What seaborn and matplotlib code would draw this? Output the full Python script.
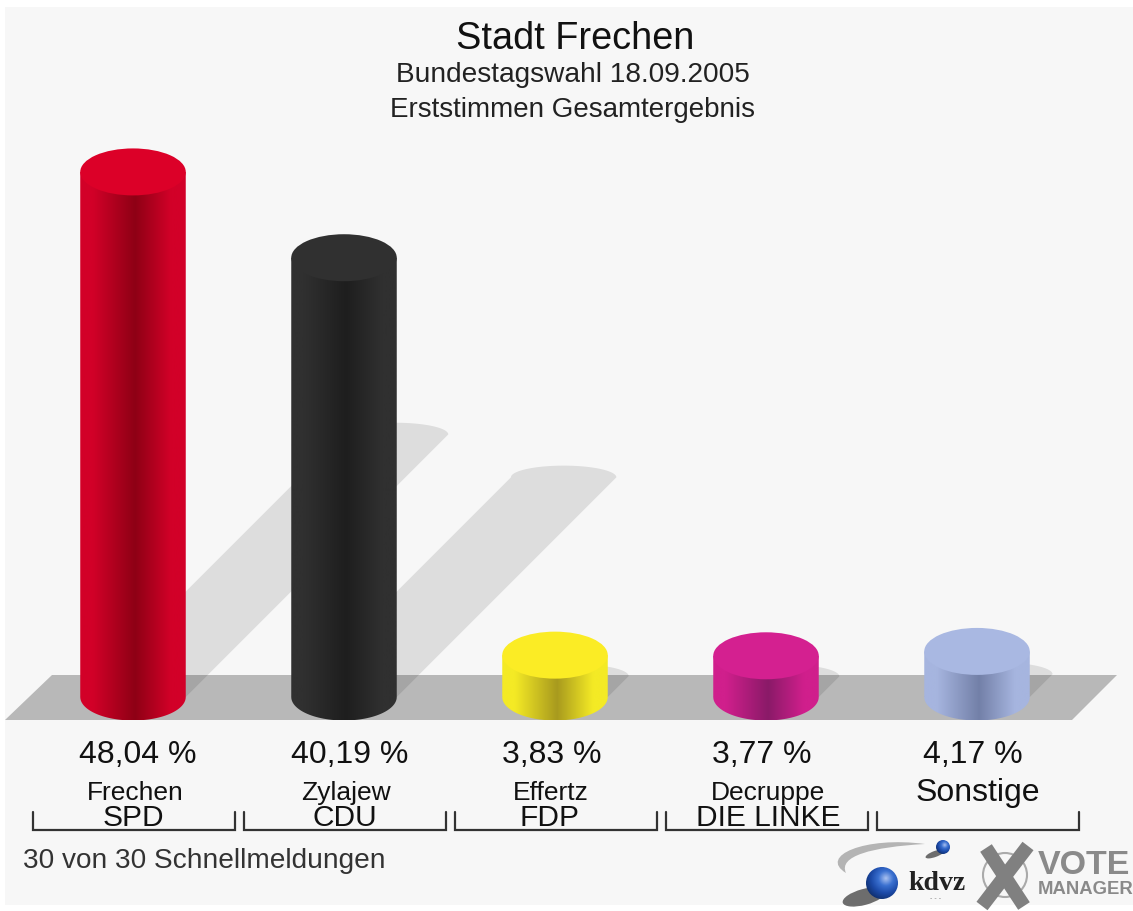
import numpy as np
import pandas as pd
import matplotlib
matplotlib.use("Agg")
import matplotlib.pyplot as plt
from matplotlib.colors import LinearSegmentedColormap
from matplotlib.patches import Circle, Ellipse, PathPatch, Polygon
from matplotlib.path import Path
import seaborn as sns

# Daten
kandidaten = ["Frechen", "Zylajew", "Effertz", "Decruppe", "Sonstige"]
parteien = ["SPD", "CDU", "FDP", "DIE LINKE", ""]
prozent = [48.04, 40.19, 3.83, 3.77, 4.17]

# Farben: Deckel, Rand, Mitte
farben_deckel = ["#dc0028", "#303030", "#fbec25", "#d42090", "#a9b8e2"]
farben_rand = ["#d20028", "#303030", "#f4ea25", "#d01f8c", "#a6b5df"]
farben_mitte = ["#8e0015", "#1e1e1e", "#a89a1e", "#8a1a68", "#7380a8"]

# Geometrie in Pixeln
B, H = 1133, 911
BG = "#f7f7f7"
X0, DX = 133, 211      # Mitte erste Saeule, Abstand
Y0, PRO_PROZENT = 697, 10.93
RY_PX = 23.5

sns.set_theme(style="white")
plt.rcParams["font.family"] = ["Liberation Sans", "DejaVu Sans"]

fig = plt.figure(figsize=(B / 100, H / 100), dpi=100, facecolor="white")

# Untere Achse in Pixeln: Hintergrund, Boden, Texte, Logo
deko = fig.add_axes([0, 0, 1, 1], zorder=0)
deko.set_xlim(0, B)
deko.set_ylim(H, 0)
deko.axis("off")
deko.add_patch(Polygon([(5, 7), (B, 7), (B, 905), (5, 905)], fc=BG, ec="none", zorder=0))
deko.add_patch(Polygon([(5, 720), (52, 675), (1117, 675), (1072, 720)], fc="#b8b8b8", ec="none", zorder=1))

# Obere Achse mit den Werten
ax = fig.add_axes([0, 0, 1, 1], zorder=1)
ax.patch.set_alpha(0)
df = pd.DataFrame({"kandidat": kandidaten, "prozent": prozent})
sns.barplot(data=df, x="kandidat", y="prozent", hue="kandidat", palette=farben_rand,
            width=0.5, saturation=1, legend=False, ax=ax)
xlim = (-X0 / DX, (B - X0) / DX)
ylim = ((Y0 - H) / PRO_PROZENT, Y0 / PRO_PROZENT)
ax.axis("off")

ry = RY_PX / PRO_PROZENT
t = np.linspace(0, np.pi, 60)

for i, bar in enumerate(ax.patches):
    x = bar.get_x()
    w = bar.get_width()
    h = bar.get_height()
    mitte = x + w / 2

    # Schatten 45 Grad nach rechts oben
    sh_px = 0.5 * h * PRO_PROZENT
    sx = sh_px / DX
    sy = sh_px / PRO_PROZENT
    oben = [(mitte + sx + w / 2 * np.cos(a), sy + 0.5 * ry * np.sin(a)) for a in t]
    ax.add_patch(Polygon([(x, 0), (x + w, 0)] + oben, fc="black", alpha=0.1, ec="none", zorder=1))

    # Koerper mit Verlauf
    cmap = LinearSegmentedColormap.from_list(
        f"zyl{i}",
        [(0, farben_rand[i]), (0.12, farben_rand[i]), (0.52, farben_mitte[i]),
         (0.86, farben_rand[i]), (1, farben_rand[i])])
    verlauf = np.linspace(0, 1, 256).reshape(1, -1)
    img = ax.imshow(verlauf, cmap=cmap, extent=(x, x + w, -ry, h), aspect="auto", zorder=3)
    unten = [(mitte - w / 2 * np.cos(a), -ry * np.sin(a)) for a in t]
    rand = [(x, h)] + unten + [(x + w, h), (x, h)]
    clip = PathPatch(Path(rand), transform=ax.transData, fc="none", ec="none")
    ax.add_patch(clip)
    img.set_clip_path(clip)
    bar.set_visible(False)

    # Deckel
    ax.add_patch(Ellipse((mitte, h), w, 2 * ry, fc=farben_deckel[i], ec="none", zorder=4))

ax.set_xlim(xlim)
ax.set_ylim(ylim)

# Titel
deko.text(575, 39, "Stadt Frechen", fontsize=27.3, color="#111111", ha="center", va="center")
deko.text(573, 75, "Bundestagswahl 18.09.2005", fontsize=20.2, color="#222222", ha="center", va="center")
deko.text(572, 110, "Erststimmen Gesamtergebnis", fontsize=20, color="#222222", ha="center", va="center")

# Beschriftung unter den Saeulen
x_prozent = [138, 350, 552, 762, 973]
x_name = [135, 346, 551, 768, 978]
x_partei = [133, 345, 549, 768, 978]
for i in range(len(kandidaten)):
    label = f"{prozent[i]:.2f}".replace(".", ",") + " %"
    deko.text(x_prozent[i], 755, label, fontsize=23, color="#111111", ha="center", va="center")
    if parteien[i]:
        deko.text(x_name[i], 793, kandidaten[i], fontsize=19, color="#111111", ha="center", va="center")
        deko.text(x_partei[i], 818, parteien[i], fontsize=21.5, color="#111111", ha="center", va="center")
    else:
        deko.text(x_name[i], 793, kandidaten[i], fontsize=23, color="#111111", ha="center", va="center")
    links = 33 + i * 211
    deko.plot([links, links, links + 202, links + 202], [812, 830, 830, 812], color="#333333", lw=1.6,
              solid_joinstyle="miter", zorder=3)

deko.text(23, 861, "30 von 30 Schnellmeldungen", fontsize=20.2, color="#333333", ha="left", va="center")

# Logo kdvz
deko.add_patch(PathPatch(Path([(925, 844), (865, 836), (818, 856), (846, 873), (838, 856), (872, 847), (925, 844)],
                              [Path.MOVETO, Path.CURVE4, Path.CURVE4, Path.CURVE4, Path.CURVE4, Path.CURVE4, Path.CURVE4]),
                         fc="#b4b4b4", ec="none", zorder=2))
kugel = LinearSegmentedColormap.from_list("kugel", ["#a8c0f0", "#3a70d0", "#1c4aa8", "#103070"])
yy, xx = np.mgrid[-1:1:80j, -1:1:80j]
radial = np.clip(np.hypot(xx - 0.25, yy + 0.3) / 1.4, 0, 1)
deko.add_patch(Ellipse((864, 897), 44, 16, angle=-15, fc="#333333", alpha=0.7, ec="none", zorder=2))
deko.add_patch(Ellipse((935, 854), 20, 6, angle=-20, fc="#333333", alpha=0.7, ec="none", zorder=2))
for cx, cy, r in [(882, 883, 16), (943, 847, 7)]:
    im = deko.imshow(radial, cmap=kugel, extent=(cx - r, cx + r, cy + r, cy - r), aspect="auto", zorder=3)
    c = Circle((cx, cy), r, transform=deko.transData, fc="none", ec="none")
    deko.add_patch(c)
    im.set_clip_path(c)
deko.text(937, 884, "kdvz", fontsize=20, fontweight="bold", family="Liberation Serif", color="#222222",
          ha="center", va="center", zorder=3)
deko.text(936, 899, "- - -", fontsize=5, color="#888888", ha="center", va="center", zorder=3)

# Logo Vote Manager
deko.add_patch(Circle((1005, 875), 22, fc="none", ec="#aaaaaa", lw=1.5, zorder=2))
deko.plot([986, 1024], [848, 906], color="#808080", lw=10, solid_capstyle="butt", zorder=3)
deko.plot([1028, 982], [846, 906], color="#808080", lw=10, solid_capstyle="butt", zorder=3)
deko.text(1038, 865, "VOTE", fontsize=24.5, fontweight="bold", color="#8a8a8a", ha="left", va="center", zorder=3)
deko.text(1086, 890, "MANAGER", fontsize=13.3, fontweight="bold", color="#8a8a8a", ha="center", va="center", zorder=3)
deko.set_xlim(0, B)
deko.set_ylim(H, 0)

fig.savefig("out.png", dpi=100, facecolor=fig.get_facecolor())
